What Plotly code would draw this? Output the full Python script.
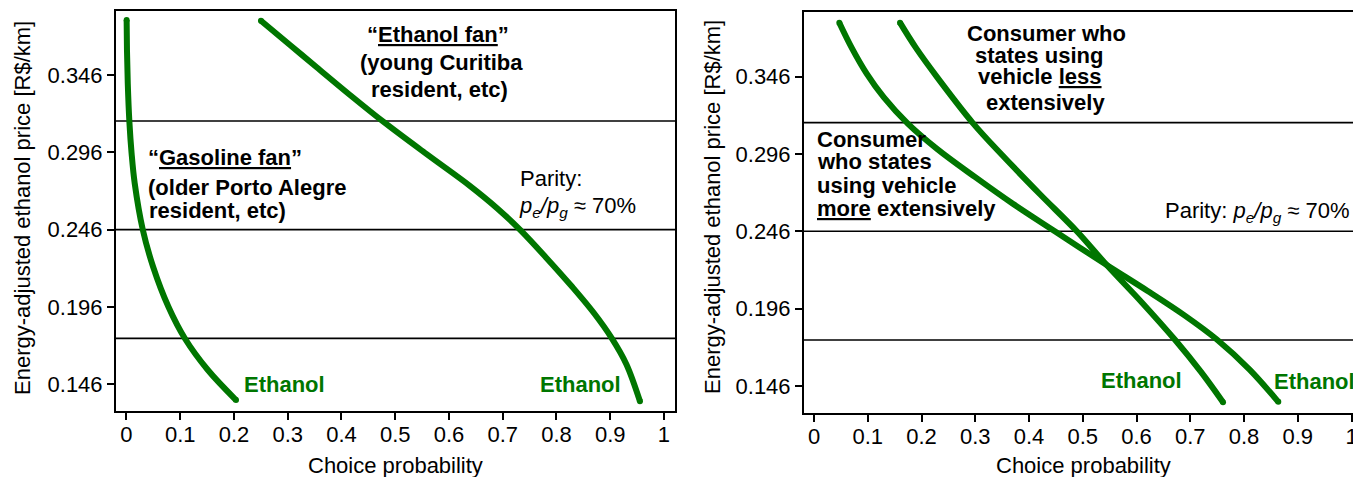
import plotly.graph_objects as go

W, H = 1353, 477
GREEN = "rgb(0,118,0)"
FONT = "Liberation Sans, Arial, sans-serif"

# ---------------- data ----------------
parity_levels = [0.1757, 0.2460, 0.3163]

y_tick_vals = [0.146, 0.196, 0.246, 0.296, 0.346]
y_tick_text = ["0.146", "0.196", "0.246", "0.296", "0.346"]
x_tick_vals = [0, 0.1, 0.2, 0.3, 0.4, 0.5, 0.6, 0.7, 0.8, 0.9, 1.0]
x_tick_text = ["0", "0.1", "0.2", "0.3", "0.4", "0.5", "0.6", "0.7", "0.8", "0.9", "1"]

# Left panel: "Gasoline fan"
gas_fan_prob = [0.0003, 0.0009, 0.0024, 0.0054, 0.0095, 0.0153, 0.0303, 0.0495, 0.0780, 0.1090, 0.1514, 0.2038]
gas_fan_price = [0.3816, 0.3622, 0.3406, 0.3158, 0.2954, 0.2760, 0.2460, 0.2220, 0.1961, 0.1754, 0.1552, 0.1358]

# Left panel: "Ethanol fan"
eth_fan_prob = [0.2502, 0.3042, 0.3538, 0.4158, 0.4778, 0.5585, 0.6400, 0.6900, 0.7320, 0.7800, 0.8300, 0.8700, 0.9030, 0.9300, 0.9553]
eth_fan_price = [0.3811, 0.3654, 0.3510, 0.3331, 0.3158, 0.2948, 0.2740, 0.2597, 0.2460, 0.2282, 0.2087, 0.1919, 0.1757, 0.1590, 0.1350]

# Right panel: uses vehicle more extensively
more_ext_prob = [0.0471, 0.0700, 0.0980, 0.1300, 0.1750, 0.2300, 0.3000, 0.3700, 0.4480, 0.5446, 0.6200, 0.6900, 0.7490, 0.8100, 0.8638]
more_ext_price = [0.3809, 0.3648, 0.3480, 0.3326, 0.3155, 0.2990, 0.2810, 0.2638, 0.2460, 0.2242, 0.2076, 0.1915, 0.1762, 0.1567, 0.1357]

# Right panel: uses vehicle less extensively
less_ext_prob = [0.1600, 0.1900, 0.2300, 0.2960, 0.3500, 0.4200, 0.4890, 0.5446, 0.6100, 0.6720, 0.7200, 0.7610]
less_ext_price = [0.3809, 0.3644, 0.3452, 0.3158, 0.2953, 0.2701, 0.2460, 0.2242, 0.2000, 0.1757, 0.1551, 0.1355]


def px(x):
    return x / W


def py(y):
    return 1 - y / H


fig = go.Figure()

line_style = dict(color=GREEN, width=6, shape="spline", smoothing=1.0)
for xs, ys, xa, ya in ((gas_fan_prob, gas_fan_price, "x", "y"),
                       (eth_fan_prob, eth_fan_price, "x", "y"),
                       (more_ext_prob, more_ext_price, "x2", "y2"),
                       (less_ext_prob, less_ext_price, "x2", "y2")):
    fig.add_trace(go.Scatter(x=xs, y=ys, mode="lines", line=line_style,
                             xaxis=xa, yaxis=ya, showlegend=False, hoverinfo="skip"))
    # round line ends
    fig.add_trace(go.Scatter(x=[xs[0], xs[-1]], y=[ys[0], ys[-1]], mode="markers",
                             marker=dict(color=GREEN, size=6, line=dict(width=0)),
                             xaxis=xa, yaxis=ya, showlegend=False, hoverinfo="skip"))

shapes = []
for lvl in parity_levels:
    for xr, yr in (("x domain", "y"), ("x2 domain", "y2")):
        shapes.append(dict(type="line", xref=xr, yref=yr, x0=0, x1=1, y0=lvl, y1=lvl,
                           line=dict(color="black", width=1.6), layer="below"))


def axis(**kw):
    d = dict(
        showline=True, linecolor="black", linewidth=2,
        ticks="outside", ticklen=7, tickwidth=1.5, tickcolor="black",
        tickfont=dict(family=FONT, size=22, color="black"),
        showgrid=False, zeroline=False, fixedrange=True, automargin=False,
    )
    d.update(kw)
    return d


fig.update_layout(
    template="none",
    width=W, height=H, autosize=False,
    margin=dict(l=0, r=0, t=0, b=0, pad=0),
    paper_bgcolor="white", plot_bgcolor="white",
    font=dict(family=FONT, size=22, color="black"),
    shapes=shapes,
    xaxis=axis(domain=[116 / W, 675 / W], range=[-0.0195, 1.0205], anchor="y",
               tickvals=x_tick_vals, ticktext=x_tick_text, mirror=True,
               ticklabelstandoff=-4),
    yaxis=axis(domain=[py(411), py(11)], range=[0.1287, 0.3874], anchor="x",
               tickvals=y_tick_vals, ticktext=y_tick_text, mirror=True),
    xaxis2=axis(domain=[804 / W, 1.0], range=[-0.0186, 1.0028], anchor="y2",
                tickvals=x_tick_vals, ticktext=x_tick_text, mirror=True,
                ticklabelstandoff=-4, ticklabeloverflow="allow"),
    yaxis2=axis(domain=[py(412.7), py(12)], range=[0.1287, 0.3878], anchor="x2",
                tickvals=y_tick_vals, ticktext=y_tick_text, mirror=False),
)


def ann(text, x, y, xanchor="left", color="black", size=22, angle=0):
    fig.add_annotation(text=text, x=px(x), y=py(y), xref="paper", yref="paper",
                       xanchor=xanchor, yanchor="middle", showarrow=False,
                       textangle=angle, align="left",
                       font=dict(family=FONT, size=size, color=color))


# axis titles
ann("Choice probability", 395.5, 465, xanchor="center")
ann("Choice probability", 1083, 465, xanchor="center")
ann("Energy-adjusted ethanol price [R$/km]", 22, 208, xanchor="center", angle=-90)
ann("Energy-adjusted ethanol price [R$/km]", 712, 207, xanchor="center", angle=-90)

# left panel texts
ann("<b>“<u>Ethanol fan</u>”</b>", 365, 34)
ann("<b>(young Curitiba</b>", 358.3, 63)
ann("<b>resident, etc)</b>", 369, 89)
ann("<b>“<u>Gasoline fan</u>”</b>", 146, 157.5)
ann("<b>(older Porto Alegre</b>", 146, 187.5)
ann("<b>resident, etc)</b>", 146.7, 210.5)
ann("Parity:", 518, 178)
ann("<i>p<sub>e</sub>/p<sub>g</sub></i> ≈ 70%", 517, 207)
ann("<b>Ethanol</b>", 241.7, 384, color=GREEN)
ann("<b>Ethanol</b>", 538.3, 384.5, color=GREEN)

# right panel texts
ann("<b>Consumer who</b>", 965, 33.3)
ann("<b>states using</b>", 973, 55)
ann("<b>vehicle <u>less</u></b>", 976.3, 76)
ann("<b>extensively</b>", 984, 102.5)
ann("<b>Consumer</b>", 815, 139)
ann("<b>who states</b>", 815, 161.5)
ann("<b>using vehicle</b>", 815, 185)
ann("<b><u>more</u> extensively</b>", 815, 208)
ann("Parity: <i>p<sub>e</sub>/p<sub>g</sub></i> ≈ 70%", 1163, 211.5)
ann("<b>Ethanol</b>", 1099, 380, color=GREEN)
ann("<b>Ethanol</b>", 1272.3, 381.5, color=GREEN)

fig.write_html("out.html")
